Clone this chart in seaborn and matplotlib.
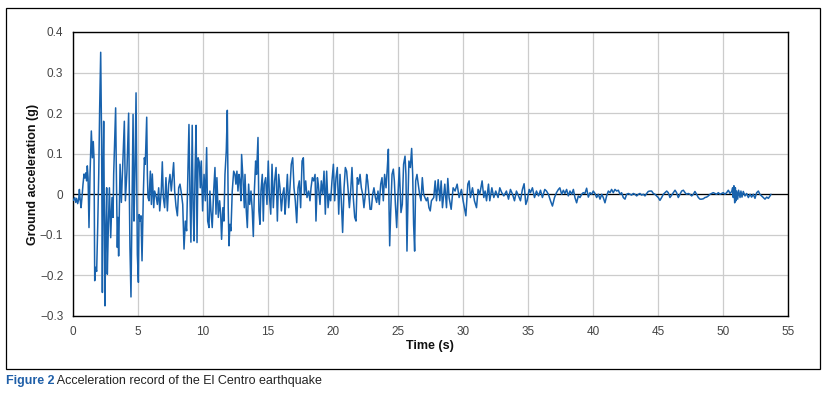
import matplotlib
matplotlib.use("Agg")
import matplotlib.pyplot as plt
from matplotlib.patches import Rectangle
from matplotlib.ticker import FuncFormatter
import seaborn as sns
import pandas as pd

# ---- data (time in s, acceleration in g) ----
time_s = [
    0.03, 0.13, 0.21, 0.28, 0.36, 0.44, 0.49, 0.56, 0.62, 0.69, 0.77, 0.85, 0.92, 1.0, 1.05, 1.1, 1.16,
    1.23, 1.31, 1.41, 1.49, 1.56, 1.62, 1.67, 1.74, 1.82, 1.9, 1.98, 2.05, 2.13, 2.2, 2.26, 2.31, 2.36,
    2.41, 2.46, 2.51, 2.59, 2.64, 2.72, 2.8, 2.9, 3.0, 3.08, 3.13, 3.21, 3.28, 3.33, 3.41, 3.46, 3.51,
    3.62, 3.72, 3.82, 3.95, 4.03, 4.15, 4.28, 4.33, 4.38, 4.46, 4.54, 4.62, 4.69, 4.77, 4.85, 4.9, 4.95,
    5.03, 5.08, 5.15, 5.23, 5.31, 5.41, 5.49, 5.56, 5.67,
    5.72, 5.77, 5.85, 5.95, 6.03, 6.1, 6.21, 6.28, 6.41, 6.49, 6.59, 6.67, 6.79, 6.87, 6.95, 7.05, 7.15,
    7.26, 7.36, 7.46, 7.56, 7.67, 7.74, 7.82, 7.92, 8.03, 8.13, 8.23, 8.33, 8.44, 8.54, 8.64, 8.74, 8.92,
    8.99, 9.07, 9.17, 9.24, 9.31, 9.39, 9.47, 9.54, 9.62, 9.72, 9.79, 9.87, 9.97, 10.08, 10.18,
    10.28, 10.36, 10.46, 10.53, 10.61, 10.71, 10.82, 10.92, 11.0, 11.07, 11.18, 11.28, 11.36, 11.43,
    11.53, 11.61, 11.69, 11.79, 11.87, 11.94, 12.0, 12.07, 12.15, 12.25, 12.36, 12.46, 12.53, 12.61,
    12.69, 12.77, 12.84, 12.92, 12.97, 13.07, 13.18, 13.23, 13.33, 13.41, 13.51, 13.59, 13.69, 13.79,
    13.87, 13.95, 14.05, 14.12, 14.23, 14.3, 14.38, 14.46, 14.56, 14.64, 14.71, 14.82, 14.92, 15.02,
    15.1, 15.21, 15.31, 15.41, 15.51, 15.62, 15.72, 15.82, 15.92, 16.03, 16.13, 16.23, 16.31, 16.38,
    16.49, 16.59, 16.69, 16.79, 16.9, 17.0, 17.1, 17.21, 17.31, 17.41, 17.51, 17.62, 17.72, 17.8, 17.9,
    18.0, 18.13, 18.23, 18.31, 18.41, 18.51, 18.62, 18.69, 18.8, 18.87, 19.0, 19.1, 19.21, 19.31, 19.41,
    19.51, 19.62, 19.72, 19.82, 19.92, 20.03, 20.13, 20.23, 20.33, 20.44, 20.54, 20.64, 20.74, 20.85,
    20.95, 21.05, 21.15, 21.26, 21.36, 21.46, 21.56, 21.67, 21.77, 21.87, 21.97, 22.08, 22.18, 22.28,
    22.38, 22.49, 22.59, 22.67, 22.74, 22.85, 22.95, 23.05, 23.15, 23.26, 23.36, 23.46, 23.56, 23.67,
    23.77, 23.87, 23.97, 24.08, 24.18, 24.26, 24.31, 24.36, 24.44, 24.54, 24.64, 24.72, 24.8, 24.9,
    25.0, 25.1,
    25.23, 25.33, 25.43, 25.54, 25.61, 25.69, 25.77, 25.84, 25.95, 26.05, 26.13, 26.2, 26.28, 26.36,
    26.46, 26.56, 26.66, 26.77, 26.87, 26.97, 27.07, 27.18, 27.28, 27.38, 27.48,
    27.57, 27.75, 27.86, 27.96, 28.09, 28.22, 28.32, 28.42, 28.6, 28.73, 28.83, 28.93, 29.09, 29.24,
    29.39, 29.55, 29.7, 29.88, 30.01, 30.22, 30.37, 30.47, 30.57, 30.73, 30.88, 31.04, 31.16, 31.29,
    31.47, 31.6, 31.7, 31.81, 31.96, 32.06, 32.22, 32.37, 32.52, 32.7, 32.83, 32.98, 33.14, 33.34,
    33.5, 33.65, 33.81, 33.96, 34.11, 34.27, 34.42, 34.57, 34.7, 34.83, 34.93, 35.09, 35.19, 35.34,
    35.5, 35.65, 35.81, 35.96, 36.11, 36.29, 36.42, 36.57, 36.73, 36.88, 37.04, 37.19, 37.34, 37.45,
    37.59, 37.72, 37.84, 37.97, 38.1, 38.23, 38.36, 38.49, 38.61, 38.74, 38.87, 39.0, 39.13, 39.25,
    39.38, 39.51, 39.64, 39.77, 39.9, 40.02, 40.15, 40.28, 40.41, 40.54, 40.67, 40.79, 40.92, 41.05,
    41.18, 41.31, 41.43, 41.56, 41.69, 41.82, 41.95, 42.08, 42.2, 42.33, 42.46, 42.59, 42.72, 42.84,
    42.97, 43.1, 43.23, 43.36, 43.49, 43.61, 43.74, 43.87, 44.0, 44.13, 44.25, 44.38, 44.51, 44.64,
    44.77, 44.9, 45.02, 45.15, 45.28, 45.41, 45.54, 45.67, 45.79, 45.92, 46.05, 46.18, 46.31, 46.43,
    46.56, 46.69, 46.82, 46.95, 47.08, 47.2, 47.33, 47.46, 47.59, 47.72, 47.84, 47.97, 48.1, 48.23,
    48.36, 48.49, 48.61, 48.74, 48.87, 49.0, 49.13, 49.25, 49.38, 49.51, 49.64, 49.77, 49.9, 50.02,
    50.15, 50.28, 50.41, 50.54, 50.67, 50.74, 50.79, 50.84, 50.9, 50.95, 51.0, 51.05, 51.13, 51.2,
    51.31, 51.38, 51.46, 51.56, 51.69, 51.82, 51.95, 52.08, 52.2, 52.33, 52.46, 52.59, 52.72, 52.84,
    52.97, 53.1, 53.23, 53.36, 53.49, 53.62, 53.69,
]

accel_g = [
    -0.015, -0.008, -0.02, -0.01, -0.023, -0.012, 0.012, -0.016, -0.033, -0.008, 0.025, 0.05, 0.04, 0.053, 0.033, 0.07, 0.04,
    -0.082, 0.05, 0.156, 0.09, 0.13, 0.086, -0.213, -0.18, -0.19, -0.08, 0.05, 0.21, 0.35, 0.13, -0.242, 0.05, 0.18,
    -0.03, -0.275, -0.115, 0.016, -0.197, -0.08, 0.016, -0.107, -0.008, -0.057, 0.05, 0.14, 0.213, 0.066, -0.131, -0.057, -0.152,
    0.074, -0.02, 0.066, 0.18, -0.016, 0.057, 0.2, 0.016, -0.13, -0.253, -0.025, 0.197, -0.066, 0.057, 0.25, 0.057, -0.148,
    -0.217, -0.05, -0.066, -0.053, -0.164, 0.0, 0.09, 0.074, 0.19,
    0.05, -0.008, -0.016, 0.057, -0.025, 0.05, -0.033, 0.008, -0.008, -0.025, 0.016, -0.041, 0.008, 0.08, -0.008, -0.033, 0.041,
    -0.041, 0.025, 0.049, 0.008, 0.049, 0.078, 0.008, -0.029, -0.053, 0.016, 0.025, 0.004, -0.025, -0.135, -0.066, -0.09, 0.172,
    0.008, -0.118, 0.17, -0.033, -0.115, 0.057, 0.17, -0.119, 0.09, 0.078, 0.016, 0.082, -0.041, 0.049, -0.016,
    0.115, -0.066, -0.082, 0.008, -0.041, -0.082, 0.008, 0.066, -0.049, 0.041, -0.057, -0.016, -0.049, -0.111,
    -0.033, -0.066, 0.049, 0.107, 0.207, -0.033, -0.127, -0.074, -0.09, 0.008, 0.057, 0.049, 0.025, 0.057,
    0.008, 0.049, 0.033, -0.016, 0.098, 0.041, -0.033, 0.049, -0.041, -0.082, 0.025, -0.025, 0.008, -0.041,
    -0.104, 0.008, 0.082, 0.049, 0.14, -0.041, -0.074, 0.008, 0.049, -0.066, 0.025, 0.041, -0.025, 0.082,
    0.0, -0.049, 0.074, -0.033, 0.033, 0.066, -0.066, 0.049, 0.016, -0.041, 0.0, 0.016, -0.049, -0.016,
    0.049, -0.033, 0.016, 0.074, 0.09, 0.016, -0.016, -0.07, 0.016, 0.033, -0.033, 0.082, 0.09, 0.0, 0.033,
    -0.008, 0.008, -0.016, 0.016, 0.041, 0.033, 0.049, -0.066, 0.041, 0.025, -0.025, 0.033, 0.0, 0.057, -0.049,
    0.057, -0.033, 0.0, -0.016, 0.033, 0.074, -0.016, 0.041, 0.066, -0.049, 0.049, -0.016, -0.094, 0.016,
    0.066, 0.057, 0.016, -0.033, 0.008, 0.066, -0.008, -0.057, -0.066, 0.041, 0.025, 0.049, 0.016, 0.0,
    -0.033, 0.0, 0.049, 0.033, 0.008, -0.037, -0.037, 0.0, 0.016, -0.008, -0.02, 0.008, -0.025, 0.025,
    0.041, -0.016, 0.049, 0.016, 0.066, 0.111, -0.033, -0.127, -0.041, 0.049, 0.062, 0.033, -0.025, -0.082,
    0.0, 0.066,
    -0.045, -0.025, 0.074, 0.094, 0.049, -0.14, -0.008, 0.082, 0.066, 0.113, 0.049, -0.074, -0.14, 0.033,
    0.049, 0.025, 0.0, -0.016, 0.041, 0.0, -0.008, -0.016, -0.008, -0.033, -0.041,
    -0.016, -0.008, 0.033, -0.016, 0.036, -0.016, 0.033, -0.033, 0.025, -0.033, 0.039, -0.008, -0.037, 0.016,
    0.008, 0.025, -0.008, 0.012, -0.016, -0.053, 0.025, 0.033, -0.008, 0.016, -0.016, -0.033, 0.012, 0.0,
    0.033, -0.008, 0.008, -0.016, 0.025, -0.016, 0.016, -0.008, 0.008, -0.008, 0.016, 0.004, -0.004, 0.008,
    -0.012, 0.012, 0.0, -0.016, 0.008, -0.004, -0.016, 0.012, 0.026, -0.025, -0.016, 0.012, 0.004, 0.016,
    -0.008, 0.008, -0.004, 0.01, -0.008, 0.012, 0.008, 0.0, -0.016, -0.029, -0.008, 0.004, 0.012, 0.016,
    0.0, 0.01, 0.002, 0.012, -0.004, 0.008, 0.0, 0.012, -0.008, -0.021, -0.004, -0.008, 0.0, 0.004,
    0.002, 0.015, -0.007, 0.004, 0.0, 0.008, 0.002, -0.008, 0.0, -0.012, 0.0, -0.008, -0.021, -0.004,
    0.008, 0.004, 0.012, 0.004, 0.012, 0.008, 0.01, 0.0, 0.004, -0.008, -0.012, 0.0, 0.002, 0.0,
    -0.002, 0.002, 0.0, -0.004, 0.0, 0.002, -0.002, 0.0, -0.004, 0.002, 0.007, 0.008, 0.008, 0.002,
    0.0, -0.004, -0.008, -0.015, -0.008, 0.0, 0.004, 0.008, 0.004, -0.008, -0.002, 0.004, 0.01, 0.004,
    -0.008, 0.0, 0.008, 0.01, 0.004, 0.0, 0.002, 0.0, -0.004, 0.0, 0.007, 0.0, -0.008, -0.012,
    -0.012, -0.011, -0.008, -0.007, -0.004, 0.0, 0.002, 0.004, 0.002, 0.0, 0.004, 0.0, 0.002, 0.004,
    0.0, 0.004, 0.01, 0.002, 0.007, 0.016, -0.008, 0.021, -0.021, 0.016, -0.016, 0.008, -0.012, 0.01,
    -0.008, 0.008, -0.007, 0.007, -0.004, 0.002, -0.008, 0.0, -0.007, 0.0, -0.01, 0.004, 0.008, 0.0,
    -0.004, -0.008, -0.012, -0.007, -0.01, -0.004, 0.0,
]

x_ticks = [0, 5, 10, 15, 20, 25, 30, 35, 40, 45, 50, 55]
y_ticks = [-0.3, -0.2, -0.1, 0.0, 0.1, 0.2, 0.3, 0.4]
x_label = "Time (s)"
y_label = "Ground acceleration (g)"
caption_head = "Figure 2"
caption_text = " Acceleration record of the El Centro earthquake"

df = pd.DataFrame({"t": time_s, "a": accel_g})

sns.set_style("white")
plt.rcParams["font.family"] = ["Liberation Sans Narrow", "Liberation Sans", "DejaVu Sans"]

W, H = 827, 398
fig = plt.figure(figsize=(W / 100, H / 100), dpi=100)
ax = fig.add_axes([73 / W, 1 - 316 / H, (788 - 73) / W, (316 - 32) / H])

ax.grid(True, color="#cccccc", linewidth=0.9)
ax.set_axisbelow(True)
ax.axhline(0, color="black", linewidth=0.9, zorder=2)
sns.lineplot(data=df, x="t", y="a", ax=ax, color="#1862ad", linewidth=1.1,
             sort=False, estimator=None, zorder=3)

ax.set_xlim(0, 55)
ax.set_ylim(-0.3, 0.4)
ax.set_xticks(x_ticks)
ax.set_yticks(y_ticks)
ax.yaxis.set_major_formatter(FuncFormatter(
    lambda v, p: "0" if abs(v) < 1e-9 else f"{v:.1f}".replace("-", "\u2212")))
ax.tick_params(axis="both", which="major", length=4, width=0.9, color="black",
               labelsize=8.5, labelcolor="#444444", direction="out", pad=3)
for s in ax.spines.values():
    s.set_color("black")
    s.set_linewidth(1.0)
    s.set_visible(True)

ax.set_xlabel(x_label, fontsize=9, fontweight="bold", color="#111111")
ax.set_ylabel(y_label, fontsize=9, fontweight="bold", color="#111111")
ax.xaxis.set_label_coords((430 - 73) / 715, -(340 - 316) / 284)
ax.yaxis.set_label_coords(-(73 - 39) / 715, 0.5)

# outer frame
fig.patches.append(Rectangle((6 / W, 1 - 369 / H), (820 - 6) / W, (369 - 8) / H,
                             transform=fig.transFigure, fill=False,
                             edgecolor="black", linewidth=0.9))

# caption
t1 = fig.text(6 / W, 1 - 381 / H, caption_head, fontsize=9, fontweight="bold",
              color="#1f5fa8", va="center", ha="left")
fig.canvas.draw()
bb = t1.get_window_extent()
fig.text(bb.x1 / W, 1 - 381 / H, caption_text, fontsize=9, color="#222222",
         va="center", ha="left")

fig.savefig("out.png", dpi=100)
